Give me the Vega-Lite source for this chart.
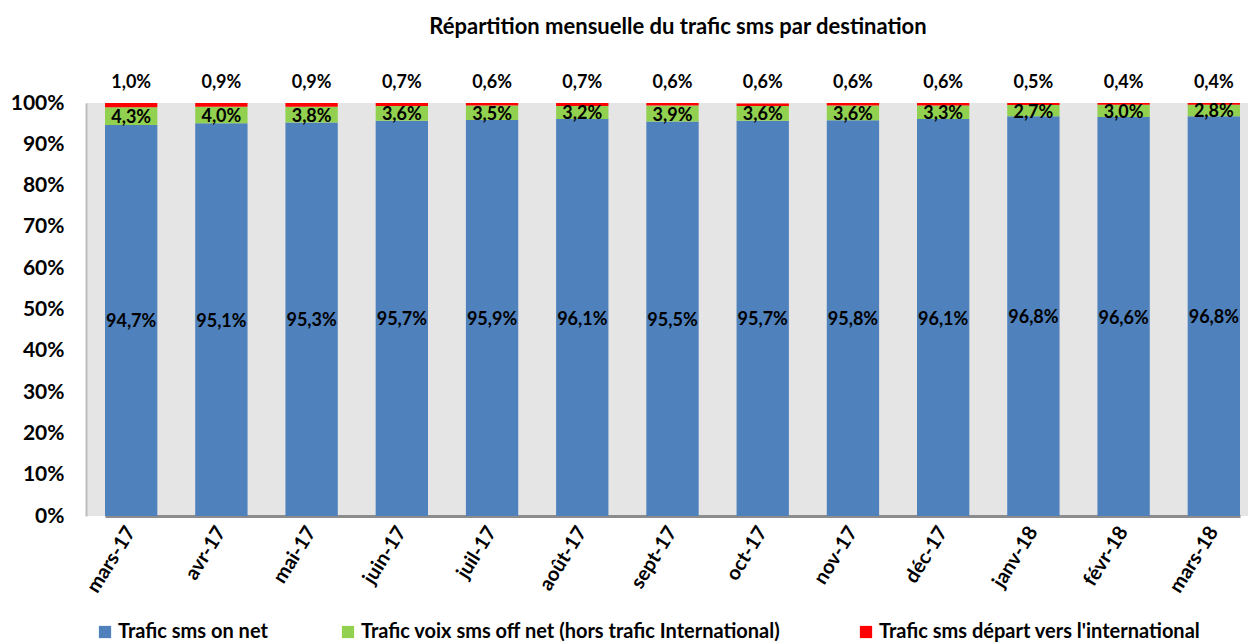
{
  "$schema": "https://vega.github.io/schema/vega-lite/v6.json",
  "width": 1162,
  "height": 413,
  "autosize": {"type": "none"},
  "padding": {"left": 86, "top": 103, "right": 3, "bottom": 127},
  "background": "white",
  "title": {
    "text": "Répartition mensuelle du trafic sms par destination",
    "font": "Lato",
    "fontSize": 22,
    "fontWeight": "bold",
    "color": "black",
    "anchor": "middle",
    "dx": 11,
    "offset": 35
  },
  "config": {
    "locale": {
      "number": {"decimal": ",", "thousands": " ", "grouping": [3], "currency": ["", " €"], "percent": "%"}
    },
    "view": {"fill": "#E5E5E5", "stroke": null},
    "font": "Lato"
  },
  "data": {
    "values": [
      {"month": "mars-17", "serie": "Trafic sms on net", "rang": 1, "value": 0.947},
      {"month": "mars-17", "serie": "Trafic voix  sms off net (hors trafic International)", "rang": 2, "value": 0.043},
      {"month": "mars-17", "serie": "Trafic sms  départ vers l'international", "rang": 3, "value": 0.010},
      {"month": "avr-17", "serie": "Trafic sms on net", "rang": 1, "value": 0.951},
      {"month": "avr-17", "serie": "Trafic voix  sms off net (hors trafic International)", "rang": 2, "value": 0.040},
      {"month": "avr-17", "serie": "Trafic sms  départ vers l'international", "rang": 3, "value": 0.009},
      {"month": "mai-17", "serie": "Trafic sms on net", "rang": 1, "value": 0.953},
      {"month": "mai-17", "serie": "Trafic voix  sms off net (hors trafic International)", "rang": 2, "value": 0.038},
      {"month": "mai-17", "serie": "Trafic sms  départ vers l'international", "rang": 3, "value": 0.009},
      {"month": "juin-17", "serie": "Trafic sms on net", "rang": 1, "value": 0.957},
      {"month": "juin-17", "serie": "Trafic voix  sms off net (hors trafic International)", "rang": 2, "value": 0.036},
      {"month": "juin-17", "serie": "Trafic sms  départ vers l'international", "rang": 3, "value": 0.007},
      {"month": "juil-17", "serie": "Trafic sms on net", "rang": 1, "value": 0.959},
      {"month": "juil-17", "serie": "Trafic voix  sms off net (hors trafic International)", "rang": 2, "value": 0.035},
      {"month": "juil-17", "serie": "Trafic sms  départ vers l'international", "rang": 3, "value": 0.006},
      {"month": "août-17", "serie": "Trafic sms on net", "rang": 1, "value": 0.961},
      {"month": "août-17", "serie": "Trafic voix  sms off net (hors trafic International)", "rang": 2, "value": 0.032},
      {"month": "août-17", "serie": "Trafic sms  départ vers l'international", "rang": 3, "value": 0.007},
      {"month": "sept-17", "serie": "Trafic sms on net", "rang": 1, "value": 0.955},
      {"month": "sept-17", "serie": "Trafic voix  sms off net (hors trafic International)", "rang": 2, "value": 0.039},
      {"month": "sept-17", "serie": "Trafic sms  départ vers l'international", "rang": 3, "value": 0.006},
      {"month": "oct-17", "serie": "Trafic sms on net", "rang": 1, "value": 0.957},
      {"month": "oct-17", "serie": "Trafic voix  sms off net (hors trafic International)", "rang": 2, "value": 0.036},
      {"month": "oct-17", "serie": "Trafic sms  départ vers l'international", "rang": 3, "value": 0.006},
      {"month": "nov-17", "serie": "Trafic sms on net", "rang": 1, "value": 0.958},
      {"month": "nov-17", "serie": "Trafic voix  sms off net (hors trafic International)", "rang": 2, "value": 0.036},
      {"month": "nov-17", "serie": "Trafic sms  départ vers l'international", "rang": 3, "value": 0.006},
      {"month": "déc-17", "serie": "Trafic sms on net", "rang": 1, "value": 0.961},
      {"month": "déc-17", "serie": "Trafic voix  sms off net (hors trafic International)", "rang": 2, "value": 0.033},
      {"month": "déc-17", "serie": "Trafic sms  départ vers l'international", "rang": 3, "value": 0.006},
      {"month": "janv-18", "serie": "Trafic sms on net", "rang": 1, "value": 0.968},
      {"month": "janv-18", "serie": "Trafic voix  sms off net (hors trafic International)", "rang": 2, "value": 0.027},
      {"month": "janv-18", "serie": "Trafic sms  départ vers l'international", "rang": 3, "value": 0.005},
      {"month": "févr-18", "serie": "Trafic sms on net", "rang": 1, "value": 0.966},
      {"month": "févr-18", "serie": "Trafic voix  sms off net (hors trafic International)", "rang": 2, "value": 0.030},
      {"month": "févr-18", "serie": "Trafic sms  départ vers l'international", "rang": 3, "value": 0.004},
      {"month": "mars-18", "serie": "Trafic sms on net", "rang": 1, "value": 0.968},
      {"month": "mars-18", "serie": "Trafic voix  sms off net (hors trafic International)", "rang": 2, "value": 0.028},
      {"month": "mars-18", "serie": "Trafic sms  départ vers l'international", "rang": 3, "value": 0.004}
    ]
  },
  "encoding": {
    "x": {
      "field": "month",
      "type": "nominal",
      "sort": null,
      "title": null,
      "scale": {"range": [19, 1154], "paddingInner": 0.42, "paddingOuter": 0},
      "axis": {
        "labelAngle": -58,
        "labelAlign": "right",
        "labelBaseline": "middle",
        "labelFont": "Lato",
        "labelFontSize": 20,
        "labelFontWeight": "bold",
        "labelColor": "black",
        "labelPadding": 12,
        "ticks": false,
        "domainColor": "#8C8C8C",
        "domainWidth": 3
      }
    }
  },
  "layer": [
    {
      "mark": {"type": "bar"},
      "encoding": {
        "y": {
          "field": "value",
          "type": "quantitative",
          "stack": "zero",
          "title": null,
          "scale": {"domain": [0, 1], "nice": false},
          "axis": {
            "values": [0, 0.1, 0.2, 0.3, 0.4, 0.5, 0.6, 0.7, 0.8, 0.9, 1],
            "format": ".0%",
            "grid": false,
            "ticks": false,
            "domainColor": "#BDBDBD",
            "domainWidth": 2,
            "labelFont": "Lato",
            "labelFontSize": 21,
            "labelFontWeight": "bold",
            "labelColor": "black",
            "labelPadding": 22
          }
        },
        "color": {
          "field": "serie",
          "type": "nominal",
          "title": null,
          "scale": {
            "domain": ["Trafic sms on net", "Trafic voix  sms off net (hors trafic International)", "Trafic sms  départ vers l'international"],
            "range": ["#4F81BD", "#92D050", "#FF0000"]
          },
          "legend": {
            "orient": "none",
            "legendX": 9,
            "legendY": 519,
            "direction": "horizontal",
            "symbolType": "square",
            "symbolSize": 150,
            "symbolStrokeWidth": 0,
            "symbolOpacity": 1,
            "labelFont": "Lato",
            "labelFontSize": 20,
            "labelFontWeight": "bold",
            "labelColor": "black",
            "labelLimit": 700,
            "labelOffset": 3,
            "columnPadding": 70
          }
        },
        "order": {"field": "rang", "type": "quantitative"}
      }
    },
    {
      "transform": [{"filter": "datum.rang < 3"}],
      "mark": {"type": "text", "font": "Lato", "fontSize": 18, "fontWeight": "bold", "color": "black", "baseline": "middle", "dy": 2},
      "encoding": {
        "y": {"field": "value", "type": "quantitative", "stack": "zero", "bandPosition": 0.5},
        "order": {"field": "rang", "type": "quantitative"},
        "detail": {"field": "serie"},
        "text": {"field": "value", "type": "quantitative", "format": ".1%"}
      }
    },
    {
      "transform": [{"filter": "datum.rang == 3"}],
      "mark": {"type": "text", "font": "Lato", "fontSize": 18, "fontWeight": "bold", "color": "black", "baseline": "middle", "dy": -20},
      "encoding": {
        "y": {"datum": 1, "type": "quantitative"},
        "text": {"field": "value", "type": "quantitative", "format": ".1%"}
      }
    }
  ]
}
